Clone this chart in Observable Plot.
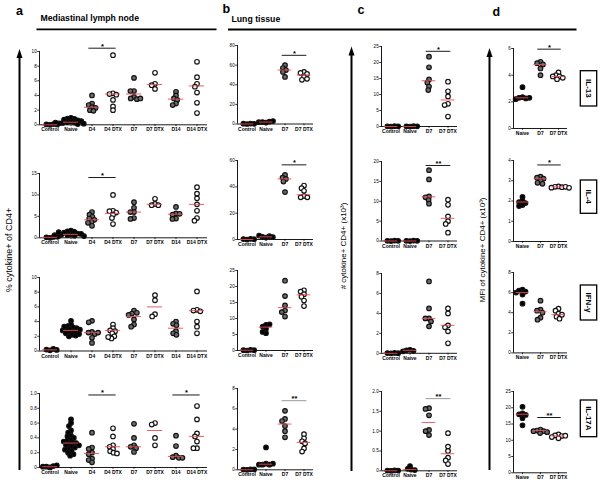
<!DOCTYPE html>
<html><head><meta charset="utf-8">
<script src="https://cdn.jsdelivr.net/npm/d3@7"></script>
<script src="https://cdn.jsdelivr.net/npm/@observablehq/plot@0.6"></script>
<style>
html,body{margin:0;padding:0;background:#fff;}
#fig{position:relative;width:603px;height:485px;overflow:hidden;font-family:"Liberation Sans",Arial,sans-serif;}
#fig svg{position:absolute;}
</style></head><body><div id="fig"></div>
<script>
// ---------- categories ----------
const lnGroups = ["Control", "Naive", "D4", "D4 DTX", "D7", "D7 DTX", "D14", "D14 DTX"];
const lungGroups = ["Control", "Naive", "D7", "D7 DTX"];
const mfiGroups = ["Naive", "D7", "D7 DTX"];
const cytokines = ["IL-13", "IL-4", "IFN-\u03B3", "IL-17A"];

// ---------- a: mediastinal lymph node, % cytokine+ of CD4+ ----------
const lnIL13 = [[0, 0.05, 0.1, 0.05], [0.95, 0.85, 0.8, 0.7, 0.6, 0.5, 0.45, 0.35, 0.3, 0.25, 0.2, 0.15, 0.1, 0.3], [4.0, 2.9, 2.7, 2.4, 2.3, 2.0, 1.9], [9.5, 4.3, 4.2, 4.1, 3.4, 2.5, 2.0], [6.4, 4.6, 4.6, 3.8, 3.6, 3.5, 3.6], [7.1, 5.6, 5.4, 4.9], [4.5, 4.0, 3.6, 3.4, 2.9, 2.7], [8.6, 6.5, 5.6, 5.2, 4.4, 3.0, 1.6]];
const lnIL13Mean = [0, 0.35, 2.4, 4.2, 4.2, 5.5, 3.5, 5.3];
const lnIL4 = [[0, 0.1, 0.2, 0.3], [1.7, 1.5, 1.4, 1.2, 1.0, 0.9, 0.8, 0.7, 0.6, 0.5, 0.4, 0.3, 0.6, 1.3], [6.0, 5.4, 4.9, 4.5, 4.2, 3.7, 3.5, 2.8], [10.0, 6.3, 6.2, 5.9, 5.4, 4.6, 3.2], [8.3, 7.0, 6.0, 6.0, 4.6, 4.4], [9.1, 7.9, 7.6, 7.6], [7.2, 5.7, 5.4, 5.6, 4.5, 4.4], [11.8, 10.3, 9.2, 7.8, 6.3, 4.6, 4.0]];
const lnIL4Mean = [0.1, 0.8, 4.2, 5.7, 6.0, 7.8, 5.5, 7.8];
const lnIFNg = [[0.1, 0.2, 0.3, 0.15], [4.1, 3.6, 3.4, 3.2, 3.1, 3.0, 2.9, 2.8, 2.7, 2.6, 2.5, 2.4, 2.3, 2.2, 2.1, 2.0, 3.3, 2.9], [4.1, 3.9, 2.6, 2.5, 2.3, 2.5, 1.8, 1.1], [3.6, 3.1, 2.8, 2.7, 2.4, 2.0, 1.7, 1.9], [5.5, 5.1, 5.2, 4.9, 4.3, 3.6, 3.3], [7.6, 6.9, 5.0, 4.7], [4.0, 3.7, 3.5, 2.7, 2.4, 2.2], [8.1, 5.6, 5.5, 5.4, 4.0, 3.3, 2.4]];
const lnIFNgMean = [0.15, 2.8, 2.5, 2.8, 4.7, 6.0, 3.1, 5.5];
const lnIL17 = [[0, 0.01, 0.02, 0.03, 0.01], [0.65, 0.6, 0.56, 0.5, 0.47, 0.43, 0.42, 0.4, 0.38, 0.36, 0.34, 0.33, 0.32, 0.3, 0.28, 0.27, 0.25, 0.24, 0.22, 0.2, 0.18, 0.16, 0.35, 0.3], [0.47, 0.27, 0.25, 0.2, 0.18, 0.12, 0.1, 0.07], [0.53, 0.42, 0.3, 0.28, 0.25, 0.22, 0.2, 0.19], [0.59, 0.4, 0.3, 0.28, 0.26, 0.21], [0.6, 0.58, 0.4, 0.3], [0.43, 0.29, 0.16, 0.14, 0.13, 0.13], [0.83, 0.65, 0.46, 0.42, 0.35, 0.26, 0.26]];
const lnIL17Mean = [0.01, 0.33, 0.19, 0.28, 0.28, 0.5, 0.15, 0.42];

// ---------- b: lung tissue, % ----------
const lungIL13 = [[0, 0.3, 0.5, 0.2], [1.5, 2.0, 2.5, 3.0, 1.8], [60, 57, 55, 53, 48], [53, 52, 51, 48, 45, 46]];
const lungIL13Mean = [0, 2, 55, 50];
const lungIL4 = [[0, 0.3, 0.5, 0.2], [1.5, 2.0, 2.5, 3.0, 1.8], [49, 47, 46, 44, 36], [41, 39, 37, 33, 32, 32]];
const lungIL4Mean = [0, 2, 46, 34];
const lungIFNg = [[0, 0.1, 0.2, 0.1], [8.0, 7.5, 8.2, 6.8, 5.4, 5.8], [21.8, 17.0, 14.1, 12.5, 12.0, 10.6], [18.8, 18.4, 17.6, 16.8, 15.6, 13.9]];
const lungIFNgMean = [0.1, 7.3, 13.4, 17.4];
const lungIL17 = [[0, 0.02, 0.05, 0.03], [2.2, 0.6, 0.5, 0.5, 0.5, 0.6], [5.8, 5.0, 4.8, 4.3, 3.8, 3.2], [3.5, 3.1, 2.8, 2.6, 2.1, 1.8]];
const lungIL17Mean = [0, 0.55, 4.5, 2.7];

// ---------- c: # cytokine+ CD4+ (x10^3) ----------
const numIL13 = [[0, 0.05, 0.1, 0.05], [0, 0.05, 0.1, 0.05], [21.8, 18.5, 14.7, 13.7, 12.5, 11.4], [14.0, 11.0, 9.4, 7.1, 6.7, 3.1]];
const numIL13Mean = [0, 0, 14.3, 8.3];
const numIL4 = [[0, 0.05, 0.1, 0.05], [0, 0.05, 0.1, 0.05], [17.8, 15.5, 11.2, 11.0, 10.3, 9.4], [10.4, 9.1, 6.2, 5.0, 4.3, 2.1]];
const numIL4Mean = [0, 0, 11.1, 5.7];
const numIFNg = [[0, 0.02, 0.04, 0.01], [0.35, 0.3, 0.25, 0.2], [7.2, 4.5, 3.5, 3.5, 3.2, 2.7], [4.5, 4.0, 2.8, 2.6, 2.2, 1.0]];
const numIFNgMean = [0, 0.3, 3.5, 2.8];
const numIL17 = [[0, 0.005, 0.01, 0.005], [0.12, 0.05, 0.03, 0.02], [1.58, 1.56, 1.4, 1.03, 1.0, 0.9], [0.95, 0.61, 0.5, 0.33, 0.26, 0.17]];
const numIL17Mean = [0, 0.03, 1.22, 0.43];

// ---------- d: MFI of cytokine+ CD4+ (x10^3) ----------
const mfiIL13 = [[3.1, 2.35, 2.3, 2.25, 2.2, 2.3], [5.0, 4.9, 4.8, 4.5, 4.0], [4.2, 4.0, 3.9, 3.8, 3.7, 3.9]];
const mfiIL13Mean = [2.3, 4.8, 3.9];
const mfiIL4 = [[2.2, 2.0, 1.95, 1.9, 1.8, 1.75], [3.2, 3.15, 3.1, 3.0, 2.9, 2.85], [2.72, 2.7, 2.68, 2.66, 2.7, 2.65]];
const mfiIL4Mean = [1.95, 3.1, 2.7];
const mfiIFNg = [[6.3, 6.2, 6.1, 6.0, 5.8, 4.9], [5.2, 4.3, 4.2, 4.0, 3.5, 3.3], [4.4, 4.2, 3.9, 3.6, 3.4, 3.8]];
const mfiIFNgMean = [6.0, 4.1, 3.8];
const mfiIL17 = [[20.3, 18.3, 18.0, 17.8, 16.8, 14.6], [13.3, 13.0, 12.8, 12.5, 12.2, 12.8], [11.8, 11.5, 11.3, 11.0, 10.6, 11.4]];
const mfiIL17Mean = [18.0, 13.0, 11.3];

// ---------- y ticks ----------
const ticksA = [[0, 2, 4, 6, 8, 10], [0, 5, 10, 15], [0, 2, 4, 6, 8, 10], [0, 0.2, 0.4, 0.6, 0.8, 1.0]];
const ticksB = [[0, 20, 40, 60, 80], [0, 20, 40, 60], [0, 5, 10, 15, 20, 25], [0, 2, 4, 6, 8]];
const ticksC = [[0, 5, 10, 15, 20, 25], [0, 5, 10, 15, 20], [0, 2, 4, 6, 8], [0, 0.5, 1.0, 1.5, 2.0]];
const ticksD = [[0, 2, 4, 6], [0, 1, 2, 3, 4], [0, 2, 4, 6, 8], [0, 5, 10, 15, 20, 25]];

// ---------- significance ----------
const starsA = [[{from: "D4", to: "D4 DTX", y: 10.45, label: "*"}], [{from: "D4", to: "D4 DTX", y: 14.06, label: "*"}], [], [{from: "D4", to: "D4 DTX", y: 0.98, label: "*"}, {from: "D14", to: "D14 DTX", y: 0.98, label: "*"}]];
const starsB = [[{from: "D7", to: "D7 DTX", y: 70, label: "*"}], [{from: "D7", to: "D7 DTX", y: 56.7, label: "*"}], [], [{from: "D7", to: "D7 DTX", y: 6.8, label: "**", grey: true}]];
const starsC = [[{from: "D7", to: "D7 DTX", y: 23.5, label: "*"}], [{from: "D7", to: "D7 DTX", y: 19, label: "**"}], [], [{from: "D7", to: "D7 DTX", y: 1.82, label: "**", grey: true}]];
const starsD = [[{from: "D7", to: "D7 DTX", y: 5.95, label: "*"}], [{from: "D7", to: "D7 DTX", y: 3.78, label: "*"}], [], [{from: "D7", to: "D7 DTX", y: 17, label: "**"}]];

// ---------- layout (pixel frames of each small plot: x0, x1, yTop, y0) ----------
const colX = {a: [36.7, 208], b: [236, 314], c: [379, 458], d: [511.7, 567]};
const rowY = {
  a: [[50.7, 124], [172.7, 237], [276.5, 350], [392.7, 466.7]],
  b: [[45, 123.5], [160, 239], [270, 350], [387.7, 469]],
  c: [[46, 126], [160.5, 240], [272.5, 352.3], [390.7, 470]],
  d: [[48, 128], [160, 241], [272.3, 352.7], [390.7, 472]]
};

const fig = document.getElementById("fig");
const FONT = '"Liberation Sans", Arial, Helvetica, sans-serif';
const RED = "#ec4a52";
const fillFor = g => (g === "Control" || g === "Naive") ? "#000" : /DTX$/.test(g) ? "#fff" : "#6c6c6c";
const fmtTick = d => d === 0 ? "0" : (Number.isInteger(d) ? String(d) : d3.format(".1f")(d));
const fmtTickDec = d => d === 0 ? "0" : d3.format(".1f")(d);

function drawPanel(groups, values, means, ticks, tickFmt, stars, frame) {
  const [x0, x1, yTop, y0] = frame;
  const rows = groups.flatMap((g, i) => values[i].map(v => ({group: g, value: v})));
  const meanRows = groups.map((g, i) => ({group: g, value: means[i]}));
  const top = ticks[ticks.length - 1];
  const axisStart = [{g: groups[0]}];
  const ML = 16, MR = 6, MT = 14, MB = 12;
  const build = (w, h) => Plot.plot({
    width: w, height: h,
    marginLeft: ML, marginRight: MR, marginTop: MT, marginBottom: MB,
    style: {fontFamily: FONT, fontSize: "5px", background: "transparent", overflow: "visible", color: "#000"},
    fx: {domain: groups, padding: 0, label: null, axis: null},
    x: {domain: [0, 1], axis: null},
    y: {domain: [0, top], axis: null},
    color: {type: "identity"},
    marks: [
      Plot.axisY({ticks, tickFormat: tickFmt, tickSize: 1.8, tickPadding: 1, fontSize: 4.6, label: null, strokeWidth: 0.8}),
      Plot.axisFx({anchor: "bottom", tickSize: 1.8, tickPadding: 1.2, fontSize: 5, fontWeight: "bold", label: null, strokeWidth: 0.8}),
      Plot.ruleX(axisStart, {fx: "g", x: 0, y1: 0, y2: top, stroke: "#000", strokeWidth: 0.9}),
      Plot.ruleY([0], {stroke: "#000", strokeWidth: 0.9}),
      Plot.dot(rows, Plot.dodgeX({anchor: "middle", padding: -1}, {fx: "group", y: "value", r: 2.3, fill: d => fillFor(d.group), stroke: "#111", strokeWidth: 1.15})),
      Plot.ruleY(meanRows, {fx: "group", y: "value", x1: 0.14, x2: 0.86, stroke: RED, strokeWidth: 0.9}),
      Plot.ruleY(stars, {fx: "from", y: "y", x1: 0.35, x2: 1, stroke: d => d.grey ? "#8c8c8c" : "#000", strokeWidth: 0.9}),
      Plot.ruleY(stars, {fx: "to", y: "y", x1: 0, x2: 0.65, stroke: d => d.grey ? "#8c8c8c" : "#000", strokeWidth: 0.9}),
      Plot.text(stars, {fx: "from", x: 1, y: "y", text: "label", fontSize: 7.5, fontWeight: "bold", fill: "#000", dy: -2})
    ]
  });
  const innerW = x1 - x0, innerH = y0 - yTop;
  let w = ML + innerW + MR, h = MT + innerH + MB;
  let p = build(w, h);
  let yr = p.scale("y").range, fr = p.scale("fx").range;
  const dh = innerH - Math.abs(yr[0] - yr[1]);
  const dw = innerW - Math.abs(fr[1] - fr[0]);
  if (Math.abs(dh) > 0.01 || Math.abs(dw) > 0.01) {
    p = build(w + dw, h + dh);
    yr = p.scale("y").range; fr = p.scale("fx").range;
  }
  p.style.left = (x0 - Math.min(...fr)) + "px";
  p.style.top = (yTop - Math.min(...yr)) + "px";
  p.style.maxWidth = "none";
  fig.appendChild(p);
}

const aVals = [lnIL13, lnIL4, lnIFNg, lnIL17], aMeans = [lnIL13Mean, lnIL4Mean, lnIFNgMean, lnIL17Mean];
const bVals = [lungIL13, lungIL4, lungIFNg, lungIL17], bMeans = [lungIL13Mean, lungIL4Mean, lungIFNgMean, lungIL17Mean];
const cVals = [numIL13, numIL4, numIFNg, numIL17], cMeans = [numIL13Mean, numIL4Mean, numIFNgMean, numIL17Mean];
const dVals = [mfiIL13, mfiIL4, mfiIFNg, mfiIL17], dMeans = [mfiIL13Mean, mfiIL4Mean, mfiIFNgMean, mfiIL17Mean];

for (let r = 0; r < 4; r++) {
  drawPanel(lnGroups, aVals[r], aMeans[r], ticksA[r], r === 3 ? fmtTickDec : fmtTick, starsA[r], [...colX.a, ...rowY.a[r]]);
  drawPanel(lungGroups, bVals[r], bMeans[r], ticksB[r], fmtTick, starsB[r], [...colX.b, ...rowY.b[r]]);
  drawPanel(lungGroups, cVals[r], cMeans[r], ticksC[r], r === 3 ? fmtTickDec : fmtTick, starsC[r], [...colX.c, ...rowY.c[r]]);
  drawPanel(mfiGroups, dVals[r], dMeans[r], ticksD[r], fmtTick, starsD[r], [...colX.d, ...rowY.d[r]]);
}

// ---------- overlay: panel letters, titles, rules, arrows, axis titles, cytokine boxes ----------
const boxesY = [[70.7, 106], [180, 213.3], [285, 320], [400, 436.7]];
const arrowHead = (x, tip) => `<path d="M${x - 3},${tip + 9} L${x},${tip} L${x + 3},${tip + 9} Z" fill="#000"/>`;
let ov = `<svg xmlns="http://www.w3.org/2000/svg" width="603" height="485" style="left:0;top:0;font-family:${FONT.replace(/"/g, "'")}">`;
ov += `<text x="16" y="14.5" font-size="12.5" font-weight="bold">a</text>`;
ov += `<text x="222.5" y="12.7" font-size="12.5" font-weight="bold">b</text>`;
ov += `<text x="357.5" y="13.5" font-size="12.5" font-weight="bold">c</text>`;
ov += `<text x="492.5" y="15.5" font-size="12.5" font-weight="bold">d</text>`;
ov += `<text x="40.5" y="20.8" font-size="8.7" font-weight="bold">Mediastinal lymph node</text>`;
ov += `<text x="231.5" y="22.3" font-size="8.7" font-weight="bold">Lung tissue</text>`;
ov += `<line x1="36.5" x2="216.5" y1="29.3" y2="29.3" stroke="#000" stroke-width="1.8"/>`;
ov += `<line x1="228" x2="576.5" y1="29.5" y2="29.5" stroke="#000" stroke-width="1.8"/>`;
ov += `<line x1="19.5" x2="19.5" y1="56" y2="470" stroke="#000" stroke-width="2"/>` + arrowHead(19.5, 49);
ov += `<line x1="351.5" x2="351.5" y1="54" y2="471" stroke="#000" stroke-width="2"/>` + arrowHead(351.5, 46.5);
ov += `<line x1="489.5" x2="489.5" y1="55" y2="470" stroke="#000" stroke-width="2"/>` + arrowHead(489.5, 48);
ov += `<text transform="translate(11.5,250) rotate(-90)" text-anchor="middle" font-size="9">% cytokine+ of CD4+</text>`;
ov += `<text transform="translate(346,246) rotate(-90)" text-anchor="middle" font-size="8">&#35; cytokine+ CD4+ (x10\u00B3)</text>`;
ov += `<text transform="translate(484.5,250) rotate(-90)" text-anchor="middle" font-size="8">MFI of cytokine+ CD4+ (x10\u00B3)</text>`;
boxesY.forEach(([t, b], i) => {
  ov += `<rect x="580.3" y="${t}" width="16.4" height="${b - t}" fill="#fff" stroke="#000" stroke-width="1.3"/>`;
  ov += `<text transform="translate(588.5,${(t + b) / 2}) rotate(90)" text-anchor="middle" dy="0.35em" font-size="8" font-weight="bold">${cytokines[i]}</text>`;
});
ov += `</svg>`;
fig.insertAdjacentHTML("beforeend", ov);
</script>
</body></html>
